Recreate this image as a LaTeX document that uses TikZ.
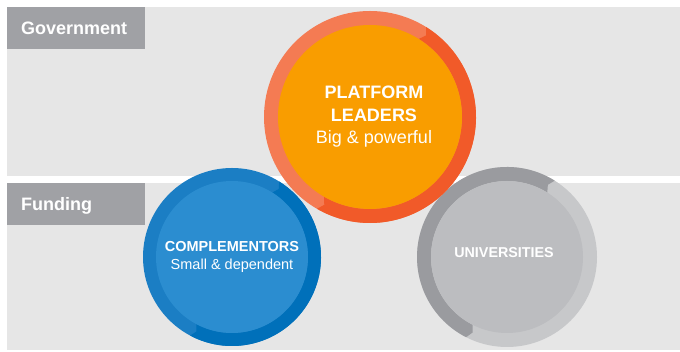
\documentclass[tikz,border=0pt]{standalone}
\usepackage{fontspec}
\setmainfont{Liberation Sans}
\usetikzlibrary{calc}
\definecolor{band}{HTML}{E6E6E6}
\definecolor{labelgray}{HTML}{A0A1A5}
\definecolor{orangeF}{HTML}{F99D00}
\definecolor{orangeL}{HTML}{F47B53}
\definecolor{orangeD}{HTML}{F15A29}
\definecolor{blueF}{HTML}{2B8DD0}
\definecolor{blueL}{HTML}{1B7EC4}
\definecolor{blueD}{HTML}{0070BA}
\definecolor{grayF}{HTML}{BCBDC0}
\definecolor{grayL}{HTML}{C7C8CA}
\definecolor{grayD}{HTML}{9A9B9F}
\tikzset{
  labelbox/.style={fill=labelgray, text=white, anchor=north west,
    font=\bfseries\fontsize{18}{20}\selectfont, align=left,
    text width=110pt, inner xsep=14pt, inner ysep=0pt,
    minimum height=42pt, text height=12.9pt, text depth=0pt},
  disc/.style={circle, inner sep=0pt, draw=none},
  circtext/.style={text=white, align=center, inner sep=0pt}
}
\begin{document}
\begin{tikzpicture}[x=1pt,y=1pt]
\useasboundingbox (0,0) rectangle (680,352);
\fill[white] (0,0) rectangle (680,352);
% bands
\fill[band] (7,176) rectangle (680,345);
\fill[band] (7,2) rectangle (680,169);
\node[labelbox] (gov) at (7,345) {Government};
\node[labelbox] (fund) at (7,169) {Funding};

% ---- Complementors (blue)
\coordinate (bc) at (232,95);
\fill[blueL] (bc) circle[radius=89];
\fill[blueD] ($(bc)+(58:89)$) arc[start angle=58,end angle=-118,radius=89]
  -- ($(bc)+(-115.5:82.5)$) -- ($(bc)+(-118:76)$)
  arc[start angle=-118,end angle=58,radius=76]
  -- ($(bc)+(55.5:82.5)$) -- cycle;
\node[disc, fill=blueF, minimum size=152pt] (comp) at (bc) {};
\node[circtext, font=\fontsize{14.5}{18}\selectfont] (comptext) at (232,94.7)
  {\textbf{COMPLEMENTORS}\\Small \& dependent};

% ---- Universities (gray)
\coordinate (gc) at (507,95);
\fill[grayL] (gc) circle[radius=90];
\fill[grayD] ($(gc)+(58:90)$) arc[start angle=58,end angle=243,radius=90]
  -- ($(gc)+(245.5:83)$) -- ($(gc)+(243:76)$)
  arc[start angle=243,end angle=58,radius=76]
  -- ($(gc)+(60.5:83)$) -- cycle;
\node[disc, fill=grayF, minimum size=152pt] (univ) at (gc) {};
\node[circtext, font=\bfseries\fontsize{14.3}{18}\selectfont] (univtext) at (504,99)
  {UNIVERSITIES};

% ---- Platform leaders (orange)
\coordinate (oc) at (370,235);
\fill[orangeL] (oc) circle[radius=106];
\fill[orangeD] ($(oc)+(58:106)$) arc[start angle=58,end angle=-120,radius=106]
  -- ($(oc)+(-117.5:99)$) -- ($(oc)+(-120:92)$)
  arc[start angle=-120,end angle=58,radius=92]
  -- ($(oc)+(55.5:99)$) -- cycle;
\node[disc, fill=orangeF, minimum size=184pt] (lead) at (oc) {};
\node[circtext, font=\fontsize{18}{22.5}\selectfont] (leadtext) at (374,235)
  {\textbf{PLATFORM}\\\textbf{LEADERS}\\Big \& powerful};
\end{tikzpicture}
\end{document}
